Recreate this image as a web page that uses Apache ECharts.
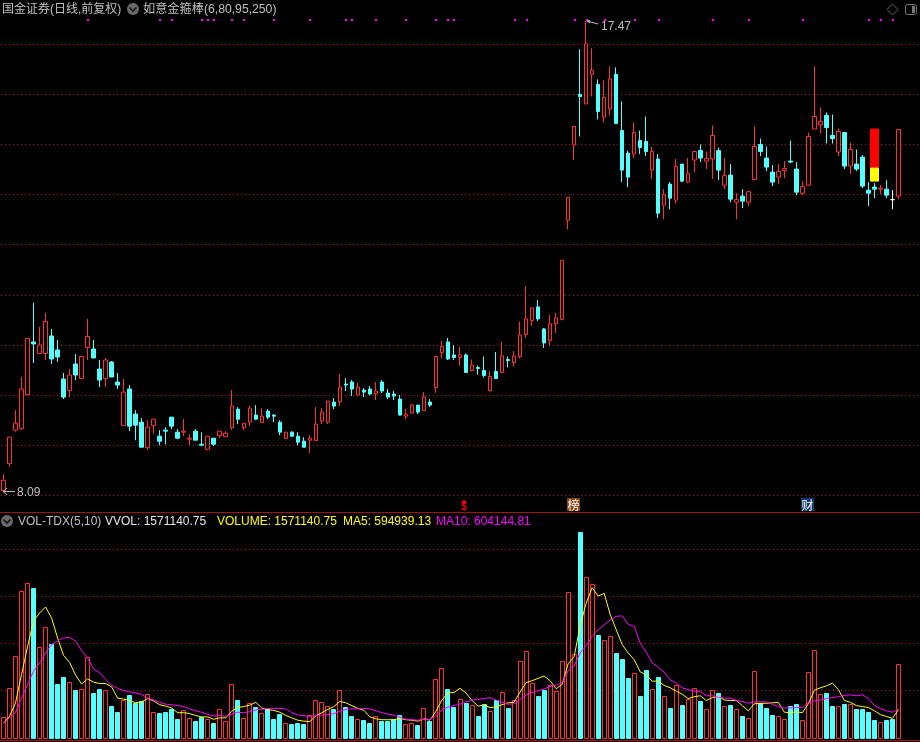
<!DOCTYPE html>
<html><head><meta charset="utf-8">
<style>html,body{margin:0;padding:0;background:#000}#c{width:920px;height:742px}</style>
<script src="https://cdn.jsdelivr.net/npm/echarts@6/dist/echarts.min.js"></script>
</head><body><div id="c"></div>
<script>
const opens=[8.09,8.63,9.30,9.33,10.01,11.06,10.83,10.83,11.18,10.90,
10.32,10.09,10.62,10.33,10.95,10.92,10.52,10.33,10.66,10.26,
9.39,10.12,9.62,9.46,8.95,9.39,9.18,9.30,9.56,9.26,
9.26,9.12,9.28,9.02,8.92,9.14,9.19,9.17,9.35,9.72,
9.35,9.46,9.60,9.45,9.68,9.60,9.46,9.13,9.26,9.18,
9.08,9.10,9.09,9.48,9.46,9.86,9.87,10.22,10.26,10.00,
10.10,10.12,10.03,10.26,10.04,10.02,9.92,9.58,9.64,9.80,
9.69,9.86,10.15,10.85,11.06,10.80,10.75,10.80,10.49,10.55,
10.49,10.09,10.47,10.45,10.71,10.65,10.77,11.21,11.49,11.76,
11.32,11.09,11.43,11.51,13.49,14.99,16.00,15.81,16.40,16.20,
15.55,15.71,16.40,15.28,14.83,14.81,15.08,15.06,14.49,14.71,
13.79,14.21,13.89,14.61,14.25,14.69,14.88,14.67,14.71,14.88,
14.19,14.39,13.85,13.97,13.85,14.30,15.00,14.73,14.45,14.35,
14.48,14.67,14.51,14.03,14.19,15.31,15.39,15.58,15.18,14.85,
15.24,14.57,14.61,14.75,14.09,14.15,14.11,14.11,13.90,13.97];
const closes=[8.30,9.16,9.44,10.12,11.13,11.02,11.00,11.47,10.72,10.76,
9.96,10.40,10.40,10.77,11.17,10.74,10.30,10.70,10.36,10.20,
10.06,9.38,9.40,8.96,9.36,9.52,9.08,9.28,9.38,9.14,
9.28,9.14,9.10,9.00,9.18,9.02,9.28,9.24,9.78,9.52,
9.44,9.74,9.52,9.58,9.56,9.58,9.26,9.26,9.18,9.06,
8.96,9.14,9.42,9.66,9.88,9.78,10.16,10.20,10.12,10.16,
10.06,10.02,10.08,10.08,9.96,9.98,9.60,9.62,9.80,9.66,
9.96,9.80,10.77,10.97,10.72,10.75,10.80,10.45,10.60,10.53,
10.39,10.37,10.33,10.78,10.69,10.78,11.20,11.52,11.74,11.52,
11.04,11.42,11.54,12.69,13.94,15.36,15.96,17.01,16.48,15.66,
15.94,16.31,15.42,14.49,14.35,15.24,14.94,14.86,14.86,13.63,
14.00,13.93,14.56,14.27,14.42,14.86,14.73,14.72,15.18,14.49,
14.38,13.91,13.90,13.87,14.06,14.96,14.86,14.55,14.25,14.46,
14.52,14.65,14.05,14.16,15.16,15.56,15.46,15.34,15.12,15.26,
14.57,14.90,14.51,14.17,14.03,14.11,14.13,13.99,13.90,15.30];
const highs=[8.42,9.16,9.70,10.36,11.13,11.84,11.36,11.64,11.32,11.10,
10.44,10.52,10.82,10.77,11.52,11.10,10.70,10.74,10.68,10.44,
10.32,10.20,9.70,9.54,9.50,9.52,9.30,9.36,9.56,9.32,
9.52,9.22,9.32,9.26,9.18,9.14,9.28,9.28,10.10,9.76,
9.44,9.78,9.80,9.74,9.72,9.62,9.50,9.26,9.28,9.26,
9.16,9.20,9.76,9.74,9.88,9.94,10.42,10.34,10.30,10.24,
10.14,10.18,10.26,10.30,10.12,10.08,10.00,9.72,9.82,9.80,
10.06,9.92,10.77,11.08,11.14,11.00,10.96,10.83,10.71,10.59,
10.77,10.47,10.86,11.06,10.77,10.88,11.46,12.18,11.74,11.90,
11.34,11.60,11.64,12.69,13.94,15.36,16.90,17.47,16.92,16.30,
16.28,16.56,16.54,15.86,14.88,15.44,15.28,15.56,14.96,14.81,
14.11,14.25,14.71,14.61,14.73,14.86,15.00,14.86,15.38,14.94,
14.73,14.61,14.03,14.11,14.06,15.36,15.12,14.96,14.59,14.61,
14.67,15.08,14.65,14.27,15.24,16.56,15.74,15.64,15.60,15.32,
15.24,15.04,14.90,14.79,14.25,14.23,14.19,14.29,14.09,15.30];
const lows=[8.09,8.57,9.27,9.31,9.99,10.64,10.83,10.70,10.62,10.66,
9.92,9.96,10.30,10.31,10.70,10.74,10.16,10.16,10.36,10.12,
9.39,9.28,9.10,8.96,8.91,9.23,9.00,9.02,9.32,9.12,
9.18,9.00,9.10,8.98,8.90,8.98,9.14,9.17,9.30,9.42,
9.30,9.38,9.50,9.45,9.52,9.46,9.20,9.13,9.16,9.00,
8.96,8.85,9.09,9.42,9.42,9.72,9.78,10.08,9.98,9.98,
9.96,10.00,9.90,10.04,9.92,9.90,9.60,9.52,9.64,9.62,
9.69,9.76,10.05,10.73,10.70,10.70,10.59,10.45,10.47,10.41,
10.35,10.07,10.33,10.45,10.55,10.57,10.73,11.14,11.38,11.48,
10.94,10.98,11.24,11.49,13.31,14.69,15.16,15.81,15.96,15.50,
15.44,15.58,15.42,14.25,14.15,14.73,14.81,14.77,14.31,13.53,
13.51,13.71,13.83,14.25,14.23,14.45,14.65,14.51,14.31,14.29,
14.11,13.85,13.51,13.73,13.77,14.30,14.77,14.47,14.17,14.21,
14.33,14.63,13.99,13.99,14.17,15.31,15.22,15.02,15.02,14.77,
14.51,14.41,14.47,14.13,13.77,13.93,14.01,13.93,13.71,13.91];
// volume, in millions
const volumes=[.44,1.06,1.74,3.12,3.29,3.19,1.93,2.35,2.00,1.15,
1.30,1.18,1.02,1.04,1.72,.94,1.04,1.01,.68,.55,
.81,.91,.74,.77,.93,.55,.53,.55,.60,.40,
.58,.42,.36,.43,.40,.32,.61,.35,1.14,.79,
.42,.74,.66,.52,.60,.40,.51,.31,.30,.32,
.30,.48,.80,.76,.67,.60,1.01,.66,.45,.40,
.38,.32,.46,.36,.36,.40,.49,.30,.32,.26,
.63,.36,1.25,1.48,1.04,.66,.82,.74,.70,.45,
.72,.57,.81,.97,.62,.80,1.63,1.84,1.16,.89,
1.02,1.12,.99,1.63,3.10,1.78,4.38,3.42,3.27,2.19,
2.08,2.16,1.81,1.68,1.26,1.38,.89,1.43,1.04,1.28,
.89,.64,1.11,.70,.82,1.06,.77,.61,1.01,.94,
.67,.70,.61,.47,.42,1.42,.74,.62,.49,.46,
.40,.68,.72,.38,1.40,1.87,.93,.94,.68,.67,
.72,.72,.60,.60,.55,.38,.33,.38,.40,1.571];
const ma5=[.31,.45,.74,1.34,1.93,2.48,2.65,2.78,2.55,2.12,
1.75,1.60,1.33,1.14,1.25,1.18,1.15,1.15,1.08,.84,
.82,.79,.74,.76,.83,.78,.70,.67,.63,.53,
.53,.51,.47,.44,.44,.39,.42,.42,.56,.64,
.66,.69,.75,.63,.59,.58,.54,.47,.42,.37,
.35,.34,.46,.53,.60,.66,.77,.74,.68,.62,
.58,.44,.40,.38,.38,.38,.41,.38,.37,.35,
.40,.37,.56,.80,.95,.96,1.05,.95,.79,.67,
.69,.64,.65,.70,.74,.75,.97,1.17,1.21,1.26,
1.31,1.21,1.04,1.13,1.57,1.72,2.38,2.86,3.19,3.01,
3.07,2.62,2.30,1.98,1.80,1.66,1.40,1.33,1.20,1.20,
1.11,1.06,.99,.92,.83,.87,.89,.79,.85,.88,
.80,.79,.79,.68,.57,.72,.73,.73,.74,.75,
.54,.53,.55,.53,.72,1.01,1.06,1.10,1.16,1.02,
.79,.75,.68,.66,.64,.57,.49,.45,.41,.595];
const ma10=[.31,.42,.53,.84,1.13,1.41,1.59,1.80,1.98,2.06,
2.12,2.13,2.05,1.85,1.69,1.46,1.38,1.24,1.11,1.05,
1.00,.97,.95,.92,.84,.80,.75,.71,.70,.68,
.66,.61,.57,.54,.49,.46,.47,.45,.50,.54,
.53,.55,.59,.60,.62,.62,.62,.61,.53,.48,
.47,.44,.47,.48,.49,.51,.56,.60,.61,.61,
.62,.61,.57,.53,.50,.48,.43,.39,.38,.37,
.39,.39,.47,.59,.65,.68,.71,.76,.80,.81,
.83,.85,.80,.75,.71,.72,.81,.91,.96,1.00,
1.03,1.09,1.11,1.17,1.42,1.52,1.80,1.95,2.16,2.29,
2.40,2.50,2.58,2.59,2.41,2.37,2.01,1.82,1.59,1.50,
1.39,1.23,1.16,1.06,1.02,.99,.98,.89,.89,.86,
.84,.84,.79,.77,.73,.76,.76,.76,.71,.66,
.63,.63,.64,.64,.74,.78,.80,.83,.85,.87,
.90,.91,.89,.91,.83,.68,.62,.57,.54,.604];
const signalDays=[14,26,28,33,34,35,38,40,45,51,57,58,62,67,72,74,75,85,87,95,97,100,105,109,118,124,133,144,146,148];
const signalLevel=17.5;
const flatWhiteDays=[148];
const stickDay=145, stickTop=15.31, stickMid=14.53, stickBottom=14.27;
const categories=Array.from({length:153},(_,i)=>String(i+1));

const RED='#ff3232',CYAN='#54ffff',GRID='#b01818',FRAME='#a81010',GREY='#c0c0c0';
const LAT='"Liberation Sans","Noto Sans CJK SC",sans-serif';
const isUp=i=>closes[i]>=opens[i]&&!flatWhiteDays.includes(i);
const candleData=opens.map((o,i)=>{
  const v=[o,closes[i],lows[i],highs[i]];
  if(flatWhiteDays.includes(i)) return {value:v,itemStyle:{color:'#fff',color0:'#fff',borderColor:'#fff',borderColor0:'#fff',borderColorDoji:'#fff'}};
  return v;
});
const blank=['-','-','-','-'];
const oneStick=(a,b)=>opens.map((_,i)=>i===stickDay?[a,b,a,b]:blank);
const splitLine={show:true,showMaxLine:false,lineStyle:{color:GRID,type:[1,3],dashOffset:3.5,width:1}};
const hiddenY={axisLine:{show:false},axisTick:{show:false},axisLabel:{show:false}};
const txt=(text,x,y,fill,extra)=>({type:'text',z:50,style:Object.assign({text,x,y,fill,font:'12px '+LAT,textVerticalAlign:'middle'},extra||{})});
const chevron=(cx,cy)=>[
 {type:'circle',z:50,shape:{cx,cy,r:6},style:{fill:'#6a6a6a'}},
 {type:'polyline',z:51,shape:{points:[[cx-3.5,cy-1.5],[cx,cy+2],[cx+3.5,cy-1.5]]},style:{stroke:'#111',fill:null,lineWidth:1.6}}];
const badge=(x,label,bg)=>[
 {type:'rect',z:50,shape:{x,y:498,width:13,height:13},style:{fill:bg}},
 {type:'text',z:51,style:{text:label,x:x+0.5,y:505,fill:'#fff',font:'12px "Noto Sans CJK SC"',textVerticalAlign:'middle'}}];
const graphic=[
 txt('国金证券(日线,前复权)',2,9.5,GREY),
 ...chevron(133,9),
 txt('如意金箍棒(6,80,95,250)',143,9.5,GREY,{font:'12.2px '+LAT}),
 {type:'polygon',z:50,shape:{points:[[892.5,4],[898,9.5],[892.5,15],[887,9.5]]},style:{fill:null,stroke:'#666',lineWidth:1}},
 {type:'rect',z:50,shape:{x:905.5,y:4.5,width:11,height:10,r:2},style:{fill:null,stroke:'#777',lineWidth:1}},
 {type:'rect',z:50,shape:{x:912,y:6,width:3,height:7},style:{fill:'#777'}},
 {type:'polyline',z:50,shape:{points:[[590,20.5],[587,21],[590,23]]},style:{stroke:GREY,fill:null,lineWidth:1}},
 {type:'line',z:50,shape:{x1:587,y1:21,x2:598,y2:24},style:{stroke:GREY,lineWidth:1}},
 txt('17.47',601,26.5,GREY),
 {type:'polyline',z:50,shape:{points:[[7,488],[3,491.5],[7,495]]},style:{stroke:GREY,fill:null,lineWidth:1}},
 {type:'line',z:50,shape:{x1:3,y1:491.5,x2:15,y2:491.5},style:{stroke:GREY,lineWidth:1}},
 txt('8.09',17,492.5,GREY),
 {type:'polygon',z:50,shape:{points:[[464,499.5],[461,503],[467,503]]},style:{fill:'#ff0000'}},
 {type:'text',z:50,style:{text:'$',x:464,y:507.5,fill:'#ff0000',font:'bold 10px '+LAT,textAlign:'center',textVerticalAlign:'middle'}},
 ...badge(567,'榜','#8b4513'),
 ...badge(801,'财','#0f3a6e'),
 ...chevron(7,521),
 txt('VOL-TDX(5,10)',18,521.5,GREY),
 txt('VVOL: 1571140.75',105,521.5,'#e6e6e6'),
 txt('VOLUME: 1571140.75',217,521.5,'#ffff00'),
 txt('MA5: 594939.13',343,521.5,'#ffff00'),
 txt('MA10: 604144.81',436,521.5,'#ff00ff')
];
const chart=echarts.init(document.getElementById('c'),null,{renderer:'canvas',width:920,height:742});
chart.setOption({
 animation:false,backgroundColor:'#000',
 grid:[{left:0.5,width:919,top:4.22,height:491.08},{left:0.5,width:919,top:512,height:225.6}],
 xAxis:[
  {type:'category',gridIndex:0,data:categories,offset:17,axisTick:{show:false},axisLabel:{show:false},axisLine:{show:true,onZero:false,lineStyle:{color:FRAME}},splitLine:{show:false}},
  {type:'category',gridIndex:1,data:categories,offset:3,axisTick:{show:false},axisLabel:{show:false},axisLine:{show:true,onZero:false,lineStyle:{color:FRAME}},splitLine:{show:false}}
 ],
 yAxis:[
  Object.assign({type:'value',gridIndex:0,min:8,max:17.8,interval:1,splitLine},hiddenY),
  Object.assign({type:'value',gridIndex:1,min:0,max:4.8,interval:1,splitLine:Object.assign({},splitLine,{showMinLine:false})},hiddenY)
 ],
 series:[
  {name:'K',type:'candlestick',xAxisIndex:0,yAxisIndex:0,barWidth:4,data:candleData,clip:false,
   itemStyle:{color:'#000',color0:CYAN,borderColor:RED,borderColor0:CYAN,borderColorDoji:RED,borderWidth:1}},
  {name:'stickRed',type:'candlestick',xAxisIndex:0,yAxisIndex:0,barWidth:8,data:oneStick(stickMid,stickTop),
   itemStyle:{color:'#ff0000',color0:'#ff0000',borderColor:'#ff0000',borderColor0:'#ff0000',borderWidth:1}},
  {name:'stickYellow',type:'candlestick',xAxisIndex:0,yAxisIndex:0,barWidth:8,data:oneStick(stickBottom,stickMid),
   itemStyle:{color:'#ffff00',color0:'#ffff00',borderColor:'#ffff00',borderColor0:'#ffff00',borderWidth:1}},
  {name:'signal',type:'custom',xAxisIndex:0,yAxisIndex:0,silent:true,
   data:signalDays.map(d=>[d,signalLevel]),encode:{x:0,y:1},
   renderItem(p,api){const c=api.coord([api.value(0),api.value(1)]);
     return {type:'rect',shape:{x:Math.floor(c[0]),y:Math.floor(c[1]),width:2,height:2},style:{fill:'#ff00ff'}};}},
  {name:'VOLUME',type:'custom',xAxisIndex:1,yAxisIndex:1,silent:true,z:2,
   data:volumes.map((v,i)=>[i,v]),encode:{x:0,y:1},
   renderItem(p,api){const i=api.value(0),t=api.coord([i,api.value(1)]),b=api.coord([i,0]);
     const cx=Math.floor(t[0])+.5,top=Math.round(t[1]),bot=Math.round(b[1]),up=isUp(i);
     return {type:'rect',shape:{x:cx-2,y:top+.5,width:4,height:bot-top},style:{fill:up?'#000':CYAN,stroke:up?RED:CYAN,lineWidth:1}};}},
  {name:'MA5',type:'line',xAxisIndex:1,yAxisIndex:1,data:ma5,showSymbol:false,symbol:'none',lineStyle:{color:'#ffff00',width:1},z:5},
  {name:'MA10',type:'line',xAxisIndex:1,yAxisIndex:1,data:ma10,showSymbol:false,symbol:'none',lineStyle:{color:'#ff00ff',width:1},z:5}
 ],
 graphic
});
</script></body></html>
